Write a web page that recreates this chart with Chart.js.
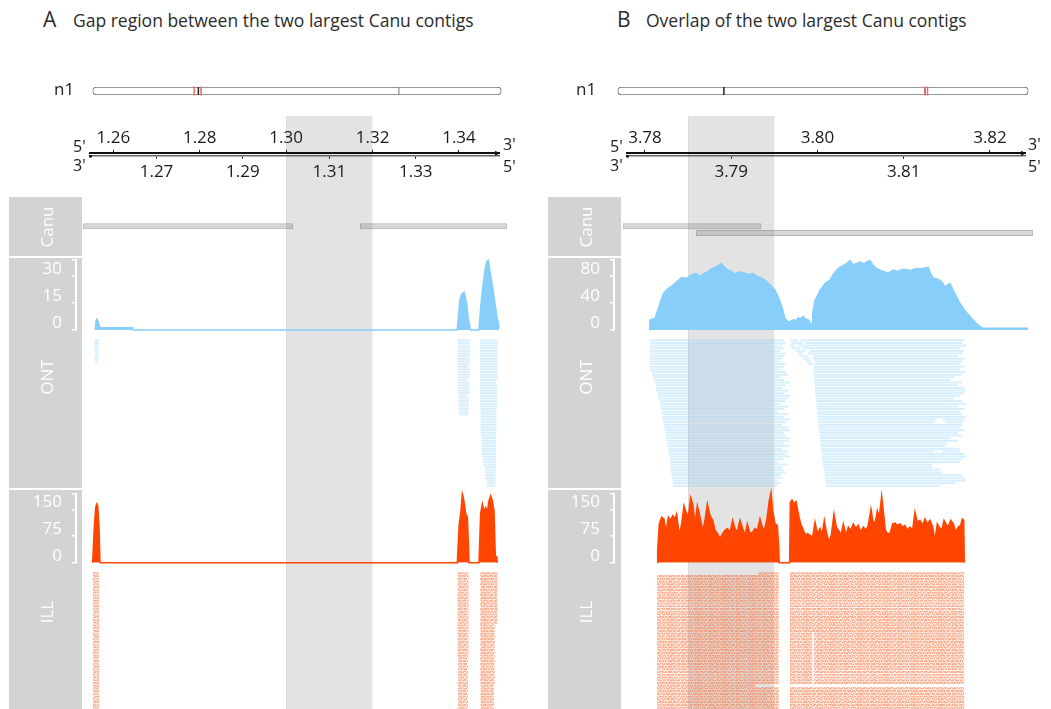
<!DOCTYPE html>
<html>
<head>
<meta charset="utf-8">
<script src="https://cdn.jsdelivr.net/npm/chart.js@4.4.1/dist/chart.umd.min.js"></script>
<style>
  html, body { margin: 0; padding: 0; background: #fff; }
  #fig { position: relative; width: 1051px; height: 709px; overflow: hidden; font-family: "Open Sans", sans-serif; }
  #fig canvas { position: absolute; }
  .box { position: absolute; background: #d3d3d3; z-index: 1; }
  .txt { position: absolute; white-space: nowrap; z-index: 3; }
</style>
</head>
<body>
<div id="fig"></div>
<script>
// ---------------- data (positions in Mb on contig n1) ----------------
const CHROM_LENGTH = 5.06;
const GAP_LOCUS = 1.31;
const OVERLAP_LOCUS = 3.79;

const titleA = 'Gap region between the two largest Canu contigs';
const titleB = 'Overlap of the two largest Canu contigs';
const trackNames = ['Canu', 'ONT', 'ILL'];

const viewA = [1.25, 1.35];
const viewB = [3.776, 3.825];
const highlightA = [1.30, 1.32];
const highlightB = [3.785, 3.795];

const rulerTopTicksA = [1.26, 1.28, 1.30, 1.32, 1.34];
const rulerBottomTicksA = [1.27, 1.29, 1.31, 1.33];
const rulerTopTicksB = [3.78, 3.80, 3.82];
const rulerBottomTicksB = [3.79, 3.81];

const ontTicksA = [0, 15, 30];
const ontTicksB = [0, 40, 80];
const illTicks = [0, 75, 150];

// Canu contigs: [start, end, lane]
const canuA = [[1.2530, 1.3016, 0], [1.3171, 1.3511, 0]];
const canuB = [[3.7774, 3.7935, 0], [3.7859, 3.8250, 1]];

// ONT coverage
const ontCovA_pos = [1.25583, 1.25600, 1.25623, 1.25658, 1.25692, 1.26449, 1.26460, 1.33959, 1.34022, 1.34061, 1.34121, 1.34177, 1.34214, 1.34269, 1.34461, 1.34524, 1.34561, 1.34600, 1.34640, 1.34677, 1.34716, 1.34778, 1.34832, 1.34885, 1.34931];
const ontCovA_val = [0, 5, 6, 4, 1.3, 1.3, 0, 0, 17, 20, 21, 15, 6.5, 0, 0, 18.5, 26, 33, 38, 38.9, 33, 24, 15, 6.5, 1.8];

const ontCovB_pos = [3.78052, 3.78056, 3.78116, 3.78154, 3.78212, 3.78270, 3.78300, 3.78328, 3.78370, 3.78425, 3.78460, 3.78502, 3.78540, 3.78599, 3.78630, 3.78676, 3.78720, 3.78773, 3.78830, 3.78889, 3.78910, 3.78947, 3.78990, 3.79043, 3.79090, 3.79140, 3.79190, 3.79256, 3.79290, 3.79333, 3.79370, 3.79411, 3.79460, 3.79507, 3.79546, 3.79585, 3.79623, 3.79661, 3.79690, 3.79719, 3.79750, 3.79778, 3.79810, 3.79836, 3.79860, 3.79893, 3.79933, 3.79940, 3.79944, 3.79971, 3.80029, 3.80087, 3.80145, 3.80180, 3.80222, 3.80260, 3.80299, 3.80340, 3.80377, 3.80410, 3.80454, 3.80500, 3.80540, 3.80580, 3.80609, 3.80640, 3.80686, 3.80740, 3.80802, 3.80840, 3.80879, 3.80930, 3.80980, 3.81034, 3.81080, 3.81130, 3.81188, 3.81240, 3.81285, 3.81310, 3.81343, 3.81380, 3.81420, 3.81450, 3.81478, 3.81510, 3.81536, 3.81570, 3.81614, 3.81650, 3.81690, 3.81740, 3.81788, 3.81840, 3.81884, 3.81922, 3.82444];
const ontCovB_val = [0, 15, 17, 32, 54, 62, 64, 67, 72, 78, 77, 78, 82, 84, 80, 83, 86, 91, 94, 99, 95, 90, 88, 83, 86, 85, 83, 84, 80, 78, 76, 72, 66, 59, 49, 35, 17, 12, 13, 15, 14, 18, 17, 20, 16, 15, 7, 7, 25, 44, 59, 69, 74, 82, 89, 93, 96, 99, 103, 97, 99, 101, 98, 102, 103, 97, 91, 88, 85, 86, 89, 87, 90, 90, 88, 91, 91, 92, 93, 84, 77, 76, 74, 70, 64, 67, 69, 60, 49, 40, 32, 24, 17, 10, 5, 2.5, 2.5];

// Illumina coverage
const illCovA_pos = [1.25523, 1.25560, 1.25593, 1.25616, 1.25639, 1.25669, 1.25692, 1.33961, 1.34007, 1.34047, 1.34077, 1.34100, 1.34123, 1.34156, 1.34193, 1.34216, 1.34232, 1.34463, 1.34502, 1.34540, 1.34579, 1.34618, 1.34655, 1.34695, 1.34734, 1.34771, 1.34810, 1.34840, 1.34873, 1.34887];
const illCovA_val = [0, 100, 155, 165, 160, 100, 0, 0, 109, 146, 193, 183, 165, 137, 128, 60, 0, 0, 137, 165, 146, 155, 142, 174, 188, 174, 146, 19, 17, 0];

const illCovB_pos = [3.78143, 3.78147, 3.78166, 3.78193, 3.78220, 3.78243, 3.78271, 3.78298, 3.78321, 3.78348, 3.78367, 3.78398, 3.78425, 3.78452, 3.78475, 3.78502, 3.78529, 3.78553, 3.78580, 3.78607, 3.78638, 3.78669, 3.78696, 3.78723, 3.78754, 3.78785, 3.78812, 3.78839, 3.78870, 3.78901, 3.78928, 3.78955, 3.78986, 3.79016, 3.79043, 3.79070, 3.79101, 3.79132, 3.79159, 3.79186, 3.79217, 3.79248, 3.79275, 3.79302, 3.79333, 3.79353, 3.79380, 3.79411, 3.79441, 3.79461, 3.79480, 3.79507, 3.79534, 3.79550, 3.79556, 3.79677, 3.79685, 3.79704, 3.79728, 3.79751, 3.79778, 3.79805, 3.79836, 3.79863, 3.79886, 3.79913, 3.79944, 3.79971, 3.79998, 3.80029, 3.80052, 3.80079, 3.80106, 3.80133, 3.80160, 3.80191, 3.80218, 3.80245, 3.80272, 3.80299, 3.80330, 3.80357, 3.80385, 3.80415, 3.80443, 3.80473, 3.80500, 3.80531, 3.80562, 3.80589, 3.80620, 3.80640, 3.80667, 3.80694, 3.80717, 3.80744, 3.80763, 3.80786, 3.80810, 3.80841, 3.80872, 3.80899, 3.80926, 3.80957, 3.80987, 3.81014, 3.81041, 3.81072, 3.81103, 3.81130, 3.81157, 3.81188, 3.81219, 3.81246, 3.81273, 3.81304, 3.81335, 3.81362, 3.81389, 3.81412, 3.81440, 3.81467, 3.81490, 3.81517, 3.81544, 3.81575, 3.81602, 3.81633, 3.81660, 3.81679, 3.81695, 3.81702];
const illCovB_val = [0, 35, 109, 128, 123, 86, 128, 119, 132, 123, 137, 77, 109, 160, 142, 128, 183, 165, 109, 160, 128, 91, 119, 165, 132, 119, 91, 82, 68, 82, 91, 96, 86, 119, 96, 86, 119, 96, 77, 109, 82, 86, 96, 91, 123, 105, 86, 119, 174, 197, 146, 109, 105, 44, 0, 0, 169, 176, 165, 172, 137, 109, 91, 77, 82, 77, 72, 114, 82, 96, 77, 119, 82, 58, 77, 137, 100, 91, 77, 109, 77, 100, 91, 109, 96, 105, 86, 100, 91, 105, 151, 119, 109, 146, 128, 188, 146, 91, 82, 82, 109, 111, 105, 109, 100, 105, 91, 100, 91, 142, 114, 119, 105, 123, 109, 119, 100, 63, 109, 100, 91, 119, 109, 100, 119, 109, 86, 100, 105, 123, 119, 0];

// ONT read pileup: [firstRow, lastRow, start, end]
const ontReadsA = [
  [0, 0, 1.2556, 1.2567], [1, 1, 1.2557, 1.2566], [2, 2, 1.2556, 1.2567], [3, 3, 1.2557, 1.2565],
  [4, 4, 1.2556, 1.2567], [5, 5, 1.2558, 1.2566], [6, 6, 1.2557, 1.2567], [7, 7, 1.2556, 1.2564], [8, 8, 1.2558, 1.2566],
  [0, 9, 1.3397, 1.3425], [10, 10, 1.3397, 1.3421], [11, 14, 1.3398, 1.3425], [15, 15, 1.3398, 1.3419],
  [16, 20, 1.3398, 1.3424], [21, 21, 1.3399, 1.3418], [22, 26, 1.3399, 1.3423], [27, 28, 1.3400, 1.3421],
  [0, 15, 1.3449, 1.3489], [16, 16, 1.3449, 1.3485], [17, 25, 1.3449, 1.3488], [26, 26, 1.3450, 1.3484],
  [27, 35, 1.3450, 1.3487], [36, 36, 1.3452, 1.3484], [37, 44, 1.3453, 1.3486], [45, 47, 1.3456, 1.3486],
  [48, 52, 1.3460, 1.3485], [53, 55, 1.3465, 1.3484]
];
const ontReadsB = [
  [0, 0, 3.7806, 3.7961], [1, 1, 3.7806, 3.7963], [2, 2, 3.7806, 3.7959], [3, 3, 3.7806, 3.7961],
  [4, 4, 3.7806, 3.7957], [5, 5, 3.7806, 3.7963], [6, 6, 3.7806, 3.7961], [7, 7, 3.7806, 3.7959],
  [8, 8, 3.7806, 3.7957], [9, 9, 3.7806, 3.7963], [10, 10, 3.7806, 3.7961], [11, 11, 3.7806, 3.7957],
  [12, 12, 3.7808, 3.7963], [13, 13, 3.7808, 3.7966], [14, 14, 3.7810, 3.7957], [15, 15, 3.7810, 3.7961],
  [16, 16, 3.7812, 3.7968], [17, 17, 3.7812, 3.7963], [18, 18, 3.7813, 3.7959], [19, 19, 3.7813, 3.7966],
  [20, 20, 3.7815, 3.7961], [21, 21, 3.7815, 3.7968], [22, 22, 3.7815, 3.7966], [23, 23, 3.7817, 3.7963],
  [24, 24, 3.7817, 3.7957], [25, 25, 3.7818, 3.7966], [26, 26, 3.7818, 3.7961], [27, 27, 3.7820, 3.7954],
  [28, 28, 3.7820, 3.7966], [29, 29, 3.7820, 3.7961], [30, 30, 3.7821, 3.7968], [31, 31, 3.7821, 3.7963],
  [32, 32, 3.7822, 3.7959], [33, 33, 3.7822, 3.7966], [34, 34, 3.7823, 3.7968], [35, 35, 3.7824, 3.7961],
  [36, 36, 3.7824, 3.7963], [37, 37, 3.7825, 3.7968], [38, 38, 3.7825, 3.7966], [39, 39, 3.7826, 3.7961],
  [40, 40, 3.7826, 3.7968], [41, 41, 3.7827, 3.7959], [42, 42, 3.7827, 3.7966], [43, 43, 3.7828, 3.7963],
  [44, 44, 3.7828, 3.7968], [45, 45, 3.7829, 3.7961], [46, 46, 3.7829, 3.7954], [47, 47, 3.7829, 3.7966],
  [48, 48, 3.7830, 3.7959], [49, 49, 3.7830, 3.7961], [50, 50, 3.7830, 3.7963], [51, 51, 3.7831, 3.7957],
  [52, 52, 3.7831, 3.7959], [53, 53, 3.7832, 3.7954], [54, 54, 3.7832, 3.7957], [55, 55, 3.7833, 3.7954],
  [0, 0, 3.7968, 3.7977], [0, 0, 3.7980, 3.8170], [1, 1, 3.7970, 3.7983], [1, 1, 3.7986, 3.8168],
  [2, 2, 3.7968, 3.7974], [2, 2, 3.7977, 3.8172], [3, 3, 3.7970, 3.7980], [3, 3, 3.7983, 3.8165],
  [4, 4, 3.7974, 3.7986], [4, 4, 3.7991, 3.8170], [5, 5, 3.7977, 3.7983], [5, 5, 3.7989, 3.8168],
  [6, 6, 3.7980, 3.7989], [6, 6, 3.7995, 3.8163], [7, 7, 3.7983, 3.7991], [7, 7, 3.7995, 3.8170],
  [8, 8, 3.7986, 3.7993], [8, 8, 3.7997, 3.8168], [9, 9, 3.7989, 3.7995], [9, 9, 3.7997, 3.8165],
  [10, 10, 3.7995, 3.8170], [11, 11, 3.7995, 3.8165], [12, 12, 3.7995, 3.8172], [13, 13, 3.7995, 3.8168],
  [14, 14, 3.7996, 3.8159], [15, 15, 3.7996, 3.8154], [16, 16, 3.7996, 3.8168], [17, 17, 3.7997, 3.8163],
  [18, 18, 3.7997, 3.8170], [19, 19, 3.7997, 3.8172], [20, 20, 3.7997, 3.8170], [21, 21, 3.7998, 3.8165],
  [22, 22, 3.7998, 3.8159], [23, 23, 3.7998, 3.8168], [24, 24, 3.7999, 3.8172], [25, 25, 3.7999, 3.8163],
  [26, 26, 3.7999, 3.8170], [27, 27, 3.8000, 3.8165], [28, 28, 3.8000, 3.8168], [29, 29, 3.8000, 3.8172],
  [30, 30, 3.8000, 3.8138], [30, 30, 3.8145, 3.8170], [31, 31, 3.8001, 3.8136], [31, 31, 3.8148, 3.8168],
  [32, 32, 3.8001, 3.8168], [33, 33, 3.8001, 3.8165], [34, 34, 3.8002, 3.8170], [35, 35, 3.8002, 3.8163],
  [36, 36, 3.8002, 3.8168], [37, 37, 3.8003, 3.8154], [38, 38, 3.8003, 3.8163], [39, 39, 3.8003, 3.8150],
  [40, 40, 3.8004, 3.8148], [41, 41, 3.8004, 3.8165], [42, 42, 3.8004, 3.8136], [42, 42, 3.8145, 3.8165],
  [43, 43, 3.8005, 3.8170], [44, 44, 3.8005, 3.8172], [45, 45, 3.8005, 3.8168], [46, 46, 3.8006, 3.8165],
  [47, 47, 3.8006, 3.8133], [48, 48, 3.8007, 3.8133], [49, 49, 3.8007, 3.8142], [50, 50, 3.8008, 3.8145],
  [51, 51, 3.8008, 3.8168], [52, 52, 3.8009, 3.8170], [53, 53, 3.8009, 3.8172], [54, 54, 3.8010, 3.8159],
  [55, 55, 3.8010, 3.8142]
];

// Illumina read pileup blocks: [firstRow, lastRow, start, end]
const illReadsA = [
  [0, 49, 1.2553, 1.2567],
  [0, 30, 1.3397, 1.3422], [31, 49, 1.3398, 1.3421],
  [0, 18, 1.3449, 1.3489], [19, 40, 1.3449, 1.3483], [41, 49, 1.3450, 1.3481]
];
const illReadsB = [
  [0, 0, 3.7931, 3.7955], [1, 40, 3.7814, 3.7955], [41, 41, 3.7814, 3.7928], [42, 49, 3.7814, 3.7955],
  [0, 21, 3.7968, 3.8170], [22, 40, 3.7968, 3.7994], [22, 40, 3.7996, 3.8170], [42, 49, 3.7968, 3.8170]
];

// ---------------- layout ----------------
const GEOM = {
  A: { anchorMb: 1.26, anchorPx: 113.3, pxPerMb: 4321,
       trackL: 76, trackR: 507, rulerL: 89, rulerR: 500, ideoL: 87, ideoR: 507,
       boxL: 9, letterX: 43, titleX: 73, n1X: 54, endL: 73, endR: 503 },
  B: { anchorMb: 3.78, anchorPx: 645, pxPerMb: 8625,
       trackL: 614, trackR: 1033, rulerL: 626, rulerR: 1026, ideoL: 612, ideoR: 1034,
       boxL: 548, letterX: 617, titleX: 646, n1X: 576, endL: 610, endR: 1028 }
};
const BOX_W = 73;
const AXIS_W = 46;
const ONT_ROWS = 56, ILL_ROWS = 50;

const ONT_BLUE = '#87cefa';
const ILL_RED = '#ff4500';

const mbAt = (g, px) => g.anchorMb + (px - g.anchorPx) / g.pxPerMb;

Chart.defaults.font.family = "'Open Sans', sans-serif";
Chart.defaults.animation = false;
Chart.defaults.plugins.legend.display = false;
Chart.defaults.plugins.tooltip.enabled = false;

const fig = document.getElementById('fig');

function addCanvas(left, top, width, height, z) {
  const c = document.createElement('canvas');
  c.width = width; c.height = height;
  c.style.left = left + 'px'; c.style.top = top + 'px';
  c.style.width = width + 'px'; c.style.height = height + 'px';
  c.style.zIndex = z;
  fig.appendChild(c);
  return c;
}

function addText(str, left, baseline, size, color) {
  const d = document.createElement('div');
  d.className = 'txt';
  d.textContent = str;
  d.style.fontSize = size + 'px';
  d.style.lineHeight = size + 'px';
  d.style.left = left + 'px';
  d.style.top = (baseline - 0.888 * size) + 'px';
  d.style.color = color;
  fig.appendChild(d);
}

function addVertical(str, cx, cy, size) {
  const d = document.createElement('div');
  d.className = 'txt';
  d.textContent = str;
  d.style.fontSize = size + 'px';
  d.style.lineHeight = size + 'px';
  d.style.left = cx + 'px';
  d.style.top = cy + 'px';
  d.style.color = '#fff';
  d.style.transform = 'translate(-50%, -50%) rotate(-90deg)';
  fig.appendChild(d);
}

function addBox(left, top, width, height) {
  const d = document.createElement('div');
  d.className = 'box';
  Object.assign(d.style, { left: left + 'px', top: top + 'px', width: width + 'px', height: height + 'px' });
  fig.appendChild(d);
}

function baseOptions() {
  return { responsive: false, maintainAspectRatio: false, devicePixelRatio: 1, animation: false,
           layout: { padding: 0 }, events: [] };
}

function hiddenX(g, left, right) {
  return { type: 'linear', display: false, offset: false, min: mbAt(g, left), max: mbAt(g, right) };
}

function expandRows(blocks) {
  const out = [];
  blocks.forEach(([r0, r1, s, e]) => { for (let r = r0; r <= r1; r++) out.push({ x: [s, e], y: r }); });
  return out;
}

// dense short-read texture for the Illumina pileup
const ILL_TEXTURE = [
  '#####.####..###.####.#####.',
  '##.#####.####.####.###.#.##',
  '######.##.###.#####..###.##',
  '#.#####.####.###.####.###.#',
  '####.###.###.####.#####.##.'
];
function illPattern() {
  const c = document.createElement('canvas');
  c.width = ILL_TEXTURE[0].length; c.height = ILL_TEXTURE.length;
  const g = c.getContext('2d');
  ILL_TEXTURE.forEach((row, y) => [...row].forEach((ch, x) => {
    g.fillStyle = ch === '#' ? 'rgba(255,69,0,0.42)' : 'rgba(255,69,0,0.08)';
    g.fillRect(x, y, 1, 1);
  }));
  return g.createPattern(c, 'repeat');
}

// ruler end marks: small dot on the lower strand, arrow on the right
const rulerEnds = {
  id: 'rulerEnds',
  afterDraw(chart) {
    const { ctx, chartArea: a } = chart;
    ctx.save();
    ctx.fillStyle = '#111';
    ctx.beginPath();
    ctx.moveTo(a.right, a.top + 0.5);
    ctx.lineTo(a.right - 5, a.top - 2);
    ctx.lineTo(a.right - 5, a.top + 3);
    ctx.closePath();
    ctx.fill();
    ctx.beginPath();
    ctx.arc(a.left + 1.5, a.bottom + 0.5, 1.5, 0, Math.PI * 2);
    ctx.fill();
    ctx.restore();
  }
};

function bracketAxis(max, ticks) {
  return {
    type: 'linear', position: 'left', min: 0, max, offset: false,
    afterFit: s => { s.width = AXIS_W; s.paddingTop = 0; s.paddingBottom = 0; },
    afterBuildTicks: s => { s.ticks = ticks.concat([max]).map(v => ({ value: v })); },
    ticks: { color: '#fff', font: { size: 17 }, padding: 10, labelOffset: -7, autoSkip: false,
             callback: v => (ticks.includes(v) ? String(v) : '') },
    grid: { drawOnChartArea: false, drawTicks: true, tickLength: 4, color: '#fff', lineWidth: 1.5 },
    border: { display: true, color: '#fff', width: 2 }
  };
}

function rulerAxis(g, position, ticks, height, borderColor, borderWidth, pad) {
  return {
    type: 'linear', position, offset: false, min: mbAt(g, g.rulerL), max: mbAt(g, g.rulerR),
    afterFit: s => { s.height = height; s.paddingLeft = 0; s.paddingRight = 0; },
    afterBuildTicks: s => { s.ticks = ticks.map(v => ({ value: v })); },
    ticks: { color: '#1a1a1a', font: { size: 17 }, padding: pad, maxRotation: 0, autoSkip: false,
             callback: v => v.toFixed(2) },
    grid: { drawOnChartArea: false, drawTicks: true, tickLength: 3, color: '#222', lineWidth: 1 },
    border: { display: true, color: borderColor, width: borderWidth }
  };
}

function buildPanel(key, d) {
  const g = GEOM[key];
  const trackW = g.trackR - g.trackL;

  // title
  addText(key, g.letterX, 27.5, 21, '#2b2b2b');
  addText(d.title, g.titleX, 27.5, 17.5, '#2b2b2b');

  // chromosome overview
  addText('n1', g.n1X, 95.5, 17, '#222');
  new Chart(addCanvas(g.ideoL, 81, g.ideoR - g.ideoL, 20, 2), {
    type: 'bar',
    data: { datasets: [
      { type: 'bar', data: [{ x: [0, CHROM_LENGTH], y: 0 }], backgroundColor: '#fff', borderColor: '#777',
        borderWidth: 1.2, borderRadius: 4, borderSkipped: false, barThickness: 8, grouped: false, order: 3 },
      { type: 'scatter', data: [{ x: OVERLAP_LOCUS, y: 0 }], pointStyle: 'line', pointRotation: 90, pointRadius: 4,
        pointBorderColor: '#8a8a8a', pointBorderWidth: 1.2, order: 2 },
      { type: 'scatter', data: [{ x: GAP_LOCUS, y: 0 }], pointStyle: 'line', pointRotation: 90, pointRadius: 4,
        pointBorderColor: '#222', pointBorderWidth: 1.5, order: 2 },
      { type: 'bar', data: [{ x: d.view, y: 0 }], backgroundColor: 'rgba(0,0,0,0)', borderColor: '#ec6a6a',
        borderWidth: 1, borderSkipped: false, barThickness: 16, grouped: false, order: 1 }
    ] },
    options: Object.assign(baseOptions(), {
      indexAxis: 'y',
      scales: { x: { type: 'linear', display: false, min: 0, max: CHROM_LENGTH },
                y: { type: 'linear', display: false, min: -1, max: 1, offset: false } }
    })
  });

  // highlighted region spanning ruler and all tracks
  new Chart(addCanvas(g.trackL, 116, trackW, 593, 0), {
    type: 'bar',
    data: { datasets: [{ data: [{ x: d.highlight, y: 0 }], backgroundColor: '#e3e3e3', borderColor: '#cdcdcd',
      borderWidth: { left: 1, right: 1, top: 0, bottom: 0 }, borderSkipped: false, barThickness: 593,
      grouped: false, inflateAmount: 0 }] },
    options: Object.assign(baseOptions(), {
      indexAxis: 'y',
      scales: { x: hiddenX(g, g.trackL, g.trackR), y: { type: 'linear', display: false, min: -1, max: 1, offset: false } }
    })
  });

  // coordinate ruler (double strand)
  const rulerTop = 122, rulerH = 64;
  new Chart(addCanvas(g.rulerL, rulerTop, g.rulerR - g.rulerL, rulerH, 2), {
    type: 'line',
    data: { datasets: [] },
    options: Object.assign(baseOptions(), {
      scales: {
        x: { display: false },
        xTop: rulerAxis(g, 'top', d.topTicks, 152.8 - rulerTop, '#111', 2, 1),
        xBot: rulerAxis(g, 'bottom', d.bottomTicks, rulerH - (152.8 - rulerTop) - 3, '#666', 1.5, 3),
        y: { display: false }
      }
    }),
    plugins: [rulerEnds]
  });
  addText("5'", g.endL, 152.2, 16, '#1a1a1a');
  addText("3'", g.endL, 171.5, 16, '#1a1a1a');
  addText("3'", g.endR, 150.5, 16, '#1a1a1a');
  addText("5'", g.endR, 172, 16, '#1a1a1a');

  // track label boxes
  addBox(g.boxL, 197, BOX_W, 59);
  addBox(g.boxL, 258, BOX_W, 230);
  addBox(g.boxL, 490, BOX_W, 219);
  addVertical(trackNames[0], g.boxL + 37, 226.7, 17);
  addVertical(trackNames[1], g.boxL + 37, 377, 17);
  addVertical(trackNames[2], g.boxL + 37, 611.7, 17);

  // Canu contigs
  const canuTop = 197, canuH = 59, laneY = 226.3, lanePitch = 6.7;
  new Chart(addCanvas(g.trackL, canuTop, trackW, canuH, 2), {
    type: 'bar',
    data: { datasets: [{ data: d.canu.map(([s, e, lane]) => ({ x: [s, e], y: lane })),
      backgroundColor: 'rgba(150,150,150,0.38)', borderColor: 'rgba(110,110,110,0.5)', borderWidth: 1,
      borderSkipped: false, barThickness: 6, grouped: false, inflateAmount: 0 }] },
    options: Object.assign(baseOptions(), {
      indexAxis: 'y',
      scales: { x: hiddenX(g, g.trackL, g.trackR),
                y: { type: 'linear', display: false, reverse: true, offset: false,
                     min: -(laneY - canuTop) / lanePitch, max: (canuTop + canuH - laneY) / lanePitch } }
    })
  });

  // coverage tracks
  function coverage(top, bottom, pos, val, color, max, ticks) {
    const cTop = Math.floor(top - 6), cBot = Math.ceil(bottom + 6);
    const left = g.trackL - AXIS_W;
    new Chart(addCanvas(left, cTop, g.trackR - left, cBot - cTop, 2), {
      type: 'line',
      data: { datasets: [{ data: pos.map((p, i) => ({ x: p, y: val[i] })), fill: 'origin',
        backgroundColor: color, borderColor: color, borderWidth: 1.5, pointRadius: 0, tension: 0, clip: 10 }] },
      options: Object.assign(baseOptions(), {
        layout: { padding: { top: top - cTop, bottom: cBot - bottom, left: 0, right: 0 } },
        scales: { x: hiddenX(g, g.trackL, g.trackR), y: bracketAxis(max, ticks) }
      })
    });
  }
  coverage(260, 330, d.ontPos, d.ontVal, ONT_BLUE, d.ontMax, d.ontTicks);
  coverage(494, 562.7, d.illPos, d.illVal, ILL_RED, 193, illTicks);

  // read pileups
  function pileup(top, height, rows, blocks, color, thickness) {
    new Chart(addCanvas(g.trackL, top, trackW, height, 2), {
      type: 'bar',
      data: { datasets: [{ data: expandRows(blocks), backgroundColor: color, borderWidth: 0,
        barThickness: thickness, grouped: false, inflateAmount: 0 }] },
      options: Object.assign(baseOptions(), {
        indexAxis: 'y',
        scales: { x: hiddenX(g, g.trackL, g.trackR),
                  y: { type: 'linear', display: false, reverse: true, offset: false, min: -0.5, max: rows - 0.5 } }
      })
    });
  }
  pileup(339, 148, ONT_ROWS, d.ontReads, 'rgba(135,206,250,0.34)', 2);
  pileup(572, 137, ILL_ROWS, d.illReads, illPattern(), 2.2);
}

buildPanel('A', {
  title: titleA, view: viewA, highlight: highlightA,
  topTicks: rulerTopTicksA, bottomTicks: rulerBottomTicksA,
  canu: canuA,
  ontPos: ontCovA_pos, ontVal: ontCovA_val, ontMax: 39, ontTicks: ontTicksA,
  illPos: illCovA_pos, illVal: illCovA_val,
  ontReads: ontReadsA, illReads: illReadsA
});
buildPanel('B', {
  title: titleB, view: viewB, highlight: highlightB,
  topTicks: rulerTopTicksB, bottomTicks: rulerBottomTicksB,
  canu: canuB,
  ontPos: ontCovB_pos, ontVal: ontCovB_val, ontMax: 104, ontTicks: ontTicksB,
  illPos: illCovB_pos, illVal: illCovB_val,
  ontReads: ontReadsB, illReads: illReadsB
});
</script>
</body>
</html>
